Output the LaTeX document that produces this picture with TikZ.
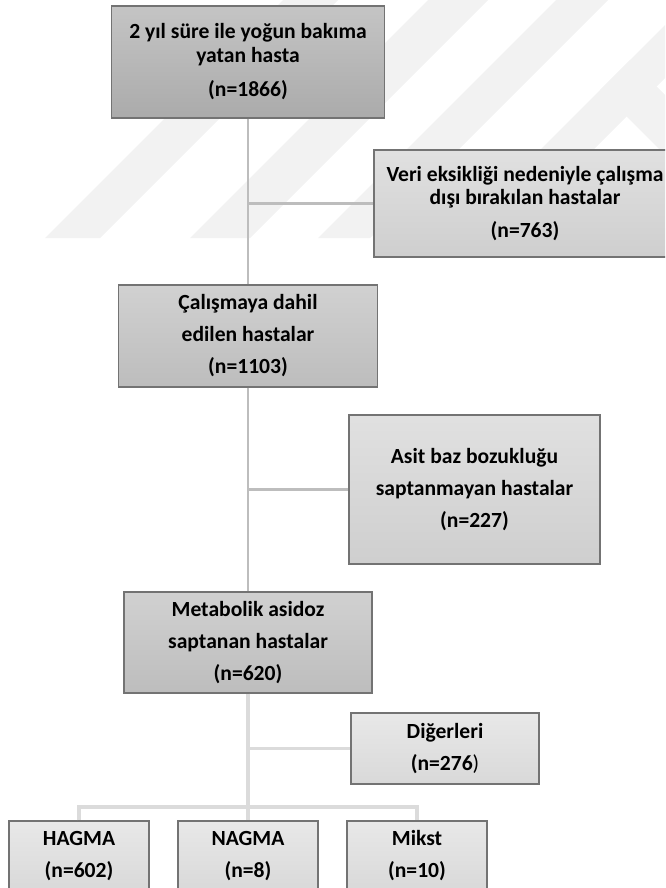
\documentclass[tikz,border=0pt]{standalone}
\usepackage{fontspec}
\setmainfont{Carlito}
\usepackage{tikz}
\definecolor{wmark}{rgb}{0.95, 0.95, 0.95}
\definecolor{boxline}{rgb}{0.45, 0.45, 0.45}
\definecolor{linkdark}{rgb}{0.74, 0.74, 0.74}
\definecolor{linklight}{rgb}{0.86, 0.86, 0.86}
\definecolor{darktop}{rgb}{0.77, 0.77, 0.77}
\definecolor{darkbot}{rgb}{0.67, 0.67, 0.67}
\definecolor{midtop}{rgb}{0.82, 0.82, 0.82}
\definecolor{midbot}{rgb}{0.74, 0.74, 0.74}
\definecolor{lighttop}{rgb}{0.88, 0.88, 0.88}
\definecolor{lightbot}{rgb}{0.81, 0.81, 0.81}
\definecolor{palettop}{rgb}{0.91, 0.91, 0.91}
\definecolor{palebot}{rgb}{0.85, 0.85, 0.85}

\begin{document}
\begin{tikzpicture}[x=0.75pt, y=-0.75pt]
	% ------------------------------------------------------------------
	% CANVAS & WATERMARK
	% ------------------------------------------------------------------
	\useasboundingbox (0,0) rectangle (665,888);
	\clip (0,0) rectangle (665,888);
	\fill[wmark] (45,238) -- (100,238) -- (338,0) -- (283,0) -- cycle;
	\fill[wmark] (190,238) -- (250,238) -- (488,0) -- (428,0) -- cycle;
	\fill[wmark] (318,238) -- (370,238) -- (608,0) -- (556,0) -- cycle;
	\fill[wmark] (452,238) -- (505,238) -- (745,-2) -- (692,-2) -- cycle;
	\fill[wmark] (600,90) -- (630,60) -- (700,130) -- (670,160) -- cycle;
	
	% ------------------------------------------------------------------
	% STYLE DEFINITIONS
	% ------------------------------------------------------------------
	\tikzset{
		box/.style     = {draw=boxline, line width=1.1pt, inner sep=0pt, align=center,
		                  font=\bfseries\fontsize{16.2}{24}\selectfont},
		boxsize/.style 2 args = {minimum width=#1*0.75pt, minimum height=#2*0.75pt},
		bdark/.style   = {box, top color=darktop, bottom color=darkbot},
		bmid/.style    = {box, top color=midtop, bottom color=midbot},
		blight/.style  = {box, top color=lighttop, bottom color=lightbot},
		bpale/.style   = {box, top color=palettop, bottom color=palebot},
		linkup/.style  = {line width=1.6pt, linkdark},
		linkdn/.style  = {line width=2.4pt, linklight}
	}
	
	% --- Main column ---
	\node[bdark, boxsize={273}{112}] (total) at (248,62)
		{2 yıl süre ile yoğun bakıma\\[-6pt]yatan hasta\\[1.5pt](n=1866)};
	\node[bmid, boxsize={259}{102}] (incl) at (248,336)
		{Çalışmaya dahil\\edilen hastalar\\(n=1103)};
	\node[bmid, boxsize={248}{101}] (meta) at (248,642.5)
		{Metabolik asidoz\\saptanan hastalar\\(n=620)};
	
	% --- Side boxes ---
	\node[blight, boxsize={302}{107}] (excl) at (525,203.5)
		{Veri eksikliği nedeniyle çalışma\\[-7pt]dışı bırakılan hastalar\\[1pt](n=763)};
	\node[blight, boxsize={251}{149}] (nodis) at (474.5,489.5)
		{Asit baz bozukluğu\\saptanmayan hastalar\\(n=227)};
	\node[bpale, boxsize={188}{71}] (other) at (445,748.5)
		{Diğerleri\\(n=276{\mdseries)}};
	
	% --- Bottom row ---
	\node[bpale, boxsize={140}{70}] (hagma) at (79,856) {HAGMA\\(n=602)};
	\node[bpale, boxsize={140}{70}] (nagma) at (248,856) {NAGMA\\(n=8)};
	\node[bpale, boxsize={140}{70}] (mikst) at (417,856) {Mikst\\(n=10)};
	
	% --- Connectors ---
	\draw[linkup] (total.south) -- (incl.north);
	\draw[linkup] (total.south |- excl.west) -- (excl.west);
	\draw[linkup] (incl.south) -- (meta.north);
	\draw[linkup] (incl.south |- nodis.west) -- (nodis.west);
	
	\coordinate (bus) at (248,807);
	\draw[linkdn] (meta.south) -- (bus);
	\draw[linkdn] (meta.south |- other.west) -- (other.west);
	\draw[linkdn] (hagma.north) |- (bus) -| (mikst.north);
	\draw[linkdn] (bus) -- (nagma.north);
	
\end{tikzpicture}
\end{document}
